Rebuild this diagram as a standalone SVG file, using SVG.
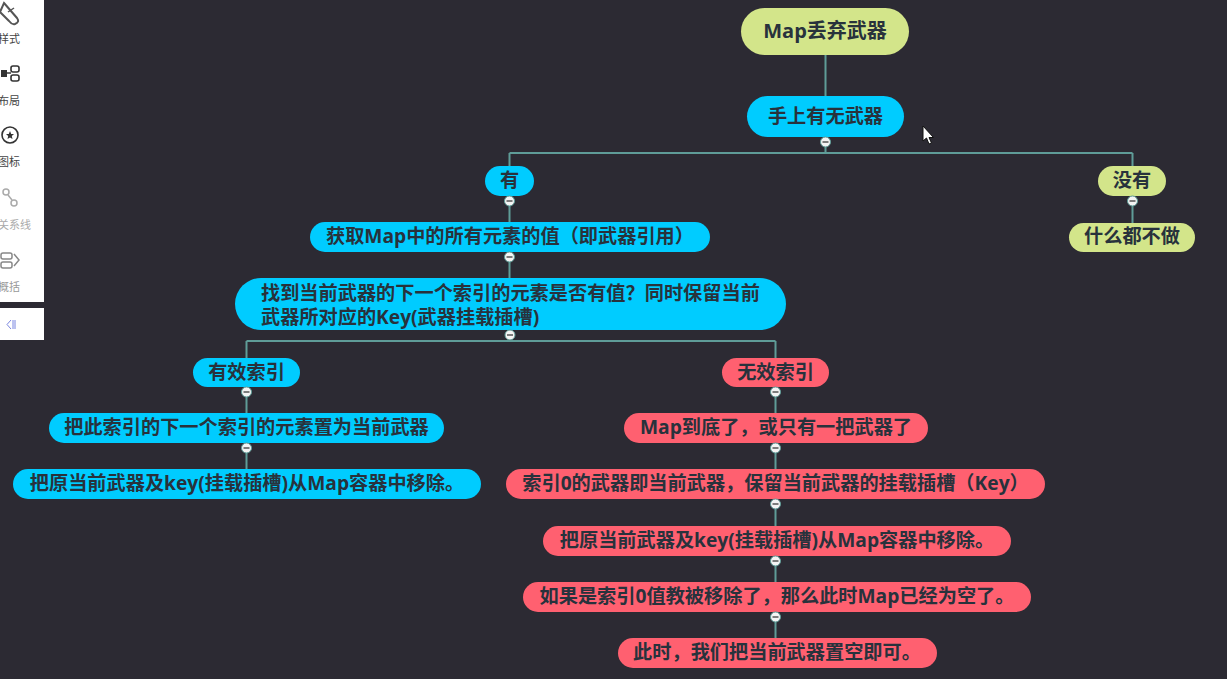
<svg xmlns="http://www.w3.org/2000/svg" width="1227" height="679" viewBox="0 0 1227 679">
<style>
text{font-family:"Open Sans","Noto Sans CJK SC",sans-serif;font-weight:700;font-size:19.2px;fill:#28323c;text-anchor:middle}
.b{fill:#00ccff}.r{fill:#ff6070}.g{fill:#d3e58a}
.c path,.c line{stroke:#5f9c98;stroke-width:2;fill:none}
.m circle{fill:#f4f4f4;stroke:#5f9c98;stroke-width:1}
.m line{stroke:#555;stroke-width:1.5}
.s text{font-weight:400;font-size:11px;fill:#444;text-anchor:start}
</style>
<rect width="1227" height="679" fill="#2c2a33"/>
<g id="sidebar" class="s">
<rect width="44" height="302" fill="#fff"/>
<rect y="308" width="44" height="32" fill="#fff"/>
<path d="M4 3L17 18Q20 22 15 24Q12 25 9 21L0 12Z" fill="none" stroke="#555" stroke-width="2"/>
<path d="M8 12L14 8" stroke="#555" stroke-width="1.5"/>
<text x="-2" y="43">样式</text>
<rect x="1" y="70" width="6" height="7" fill="#333"/>
<path d="M7 73H11" stroke="#333" stroke-width="1.5"/>
<rect x="11" y="66" width="8" height="6" rx="2" fill="none" stroke="#333" stroke-width="1.6"/>
<rect x="11" y="75" width="8" height="6" rx="2" fill="none" stroke="#333" stroke-width="1.6"/>
<text x="-2" y="105">布局</text>
<circle cx="10" cy="135" r="8" fill="none" stroke="#333" stroke-width="1.6"/>
<path d="M10 131L11.200 134H14L11.800 136L12.500 139L10 137.400L7.500 139L8.200 136L6 134H8.800Z" fill="#333"/>
<text x="-2" y="166">图标</text>
<circle cx="6" cy="192" r="3" fill="none" stroke="#aaa" stroke-width="1.5"/>
<circle cx="14" cy="203" r="3" fill="none" stroke="#aaa" stroke-width="1.5"/>
<path d="M8 195L12 200" stroke="#aaa" stroke-width="1.5"/>
<text x="-2" y="229" style="fill:#aaa">关系线</text>
<rect x="1" y="253" width="11" height="6" rx="2" fill="none" stroke="#888" stroke-width="1.5"/>
<rect x="1" y="262" width="11" height="6" rx="2" fill="none" stroke="#888" stroke-width="1.5"/>
<path d="M14 254L19 260L14 266" fill="none" stroke="#888" stroke-width="1.5"/>
<text x="-2" y="291" style="fill:#999">概括</text>
<path d="M11 320L7 324.500L11 329M13 320V329M15 320V329" fill="none" stroke="#7a86e0" stroke-width="1"/>
</g>
<g class="c" id="connectors">
<path d="M825.500 54V96M825.500 137V153M509.500 153H1132.500M509.500 153V166M1132.500 153V166"/>
<path d="M509.500 195V222M509.500 252V278M509.500 330V341M246.500 341H775.500M246.500 341V358M775.500 341V358"/>
<path d="M246.500 387V413M246.500 443V469M775.500 387V413M775.500 443V469M775.500 499V526M775.500 556V582M775.500 612V638M1132.500 195V223"/>
</g>
<g id="n1"><rect x="741" y="8" width="168" height="47" rx="23.500" class="g"/><text x="825" y="38" style="font-size:20px">Map丢弃武器</text></g>
<g id="n2"><rect x="747" y="96" width="157" height="41" rx="20.500" class="b"/><text x="825.500" y="123">手上有无武器</text></g>
<g id="n3"><rect x="485" y="166" width="49" height="30" rx="15" class="b"/><text x="509.500" y="187">有</text></g>
<g id="n4"><rect x="1098" y="166" width="68" height="30" rx="15" class="g"/><text x="1132" y="187">没有</text></g>
<g id="n5"><rect x="1069" y="223" width="126" height="29" rx="14.500" class="g"/><text x="1132" y="243">什么都不做</text></g>
<g id="n6"><rect x="310" y="222" width="400" height="30" rx="15" class="b"/><text x="510" y="243">获取Map中的所有元素的值（即武器引用）</text></g>
<g id="n7"><rect x="235" y="278" width="551" height="52" rx="26" class="b"/><text x="261" y="300" style="text-anchor:start">找到当前武器的下一个索引的元素是否有值？同时保留当前</text><text x="261" y="324" style="text-anchor:start">武器所对应的Key(武器挂载插槽)</text></g>
<g id="n8"><rect x="193" y="358" width="107" height="29" rx="14.500" class="b"/><text x="246.500" y="379">有效索引</text></g>
<g id="n9"><rect x="722" y="358" width="107" height="29" rx="14.500" class="r"/><text x="775.500" y="379">无效索引</text></g>
<g id="n10"><rect x="49" y="413" width="395" height="30" rx="15" class="b"/><text x="246.500" y="434">把此索引的下一个索引的元素置为当前武器</text></g>
<g id="n11"><rect x="13" y="469" width="468" height="30" rx="15" class="b"/><text x="247" y="490">把原当前武器及key(挂载插槽)从Map容器中移除。</text></g>
<g id="n12"><rect x="624" y="413" width="304" height="30" rx="15" class="r"/><text x="776" y="434">Map到底了，或只有一把武器了</text></g>
<g id="n13"><rect x="506" y="469" width="539" height="30" rx="15" class="r"/><text x="775.500" y="490">索引0的武器即当前武器，保留当前武器的挂载插槽（Key）</text></g>
<g id="n14"><rect x="543" y="526" width="468" height="30" rx="15" class="r"/><text x="777" y="547">把原当前武器及key(挂载插槽)从Map容器中移除。</text></g>
<g id="n15"><rect x="523" y="582" width="508" height="30" rx="15" class="r"/><text x="777" y="603">如果是索引0值教被移除了，那么此时Map已经为空了。</text></g>
<g id="n16"><rect x="618" y="638" width="319" height="30" rx="15" class="r"/><text x="777" y="659">此时，我们把当前武器置空即可。</text></g>
<g class="m" id="collapse-toggles">
<g><circle cx="825.500" cy="142" r="5"/><line x1="822.500" y1="142" x2="828.500" y2="142"/></g>
<g><circle cx="509.500" cy="201" r="5"/><line x1="506.500" y1="201" x2="512.500" y2="201"/></g>
<g><circle cx="1132.500" cy="201" r="5"/><line x1="1129.500" y1="201" x2="1135.500" y2="201"/></g>
<g><circle cx="509.500" cy="257" r="5"/><line x1="506.500" y1="257" x2="512.500" y2="257"/></g>
<g><circle cx="510" cy="335" r="5"/><line x1="507" y1="335" x2="513" y2="335"/></g>
<g><circle cx="246.500" cy="392" r="5"/><line x1="243.500" y1="392" x2="249.500" y2="392"/></g>
<g><circle cx="775.500" cy="392" r="5"/><line x1="772.500" y1="392" x2="778.500" y2="392"/></g>
<g><circle cx="246.500" cy="448" r="5"/><line x1="243.500" y1="448" x2="249.500" y2="448"/></g>
<g><circle cx="775.500" cy="448" r="5"/><line x1="772.500" y1="448" x2="778.500" y2="448"/></g>
<g><circle cx="775.500" cy="504" r="5"/><line x1="772.500" y1="504" x2="778.500" y2="504"/></g>
<g><circle cx="775.500" cy="561" r="5"/><line x1="772.500" y1="561" x2="778.500" y2="561"/></g>
<g><circle cx="775.500" cy="617" r="5"/><line x1="772.500" y1="617" x2="778.500" y2="617"/></g>
</g>
<path id="cursor" d="M923 126V141L926.500 138L929 144L931.500 143L929 137.500H933.500Z" fill="#fff" stroke="#111" stroke-width="1"/>
</svg>
